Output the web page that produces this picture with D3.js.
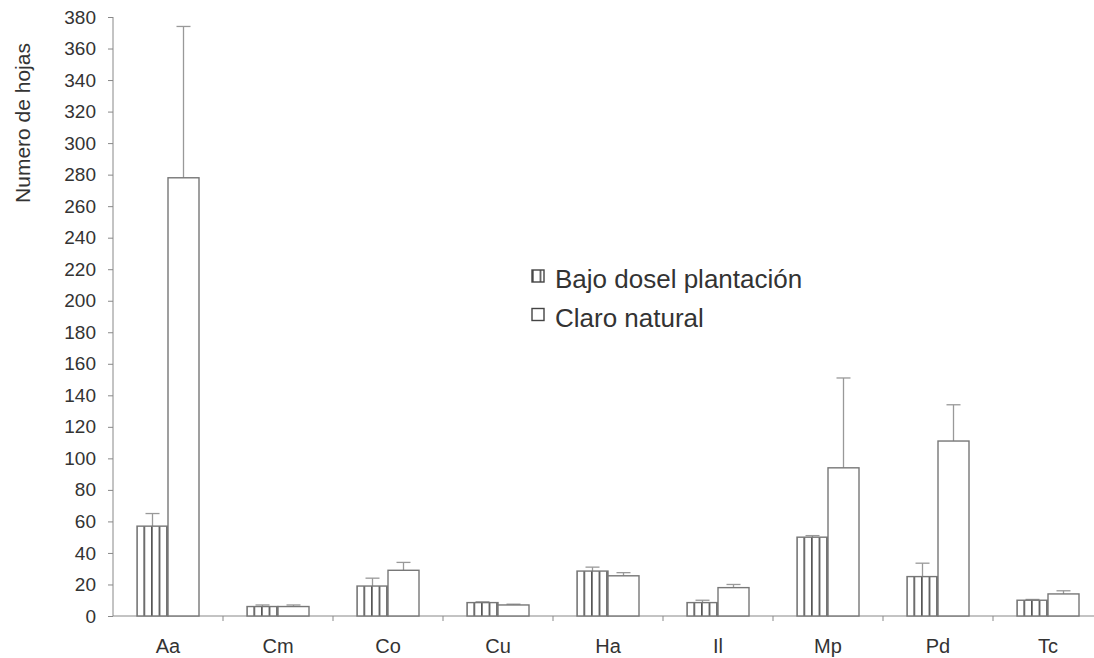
<!DOCTYPE html>
<html>
<head>
<meta charset="utf-8">
<script src="https://cdn.jsdelivr.net/npm/d3@7"></script>
<style>
  body { margin: 0; background: #fff; }
  text { font-family: "Liberation Sans", Arial, sans-serif; fill: #333; }
</style>
</head>
<body>
<div id="chart"></div>
<script>
// data
var species = ["Aa", "Cm", "Co", "Cu", "Ha", "Il", "Mp", "Pd", "Tc"];
var bajo = [57, 6, 19, 8.5, 28.5, 8.5, 50, 25, 10];
var bajoErr = [8, 1, 5, 0.5, 2.5, 1.5, 1, 8.5, 0.5];
var claro = [278, 6, 29, 7, 25.5, 18, 94, 111, 14];
var claroErr = [96, 1, 5, 0.5, 2, 2, 57, 23, 2];
var seriesNames = ["Bajo dosel plantación", "Claro natural"];
var yTicks = d3.range(0, 381, 20);

var width = 1094, height = 658;
var margin = {top: 17, left: 113, bottom: 42};
var axisGray = "#888";

var svg = d3.select("#chart").append("svg")
    .attr("width", width)
    .attr("height", height);

var defs = svg.append("defs");
var pat = defs.append("pattern")
    .attr("id", "vlines")
    .attr("patternUnits", "userSpaceOnUse")
    .attr("width", 7.6)
    .attr("height", 10);
pat.append("rect").attr("width", 7.6).attr("height", 10).attr("fill", "#fff");
pat.append("line")
    .attr("x1", 0.8).attr("x2", 0.8).attr("y1", 0).attr("y2", 10)
    .attr("stroke", "#555").attr("stroke-width", 1.8);

var y = d3.scaleLinear().domain([0, 380]).range([616, margin.top]);
var x0 = d3.scaleBand().domain(species).range([margin.left, margin.left + 9 * 110]);
var x1 = d3.scaleBand().domain([0, 1]).range([24, 86]);

// y axis
var yAxis = svg.append("g")
    .attr("transform", "translate(" + margin.left + ",0)")
    .call(d3.axisLeft(y).tickValues(yTicks).tickSize(5).tickPadding(12));
yAxis.select(".domain").attr("stroke", axisGray).attr("d", "M0," + y(380) + "V" + y(0));
yAxis.selectAll(".tick line").attr("stroke", axisGray);
yAxis.selectAll(".tick text").attr("font-size", 19).attr("fill", "#333")
    .attr("font-family", "Liberation Sans, Arial, sans-serif");

svg.append("text")
    .attr("transform", "translate(30,123) rotate(-90)")
    .attr("text-anchor", "middle")
    .attr("font-size", 21)
    .text("Numero de hojas");

// x axis
svg.append("line")
    .attr("x1", margin.left).attr("x2", width)
    .attr("y1", y(0)).attr("y2", y(0))
    .attr("stroke", axisGray);
svg.selectAll(".xtick")
    .data(species.slice(1))
    .enter().append("line")
    .attr("x1", function(d) { return x0(d); })
    .attr("x2", function(d) { return x0(d); })
    .attr("y1", y(0)).attr("y2", y(0) + 5)
    .attr("stroke", axisGray);
svg.selectAll(".xlab")
    .data(species)
    .enter().append("text")
    .attr("x", function(d) { return x0(d) + x0.bandwidth() / 2; })
    .attr("y", 653)
    .attr("text-anchor", "middle")
    .attr("font-size", 20)
    .text(function(d) { return d; });

// bars
var groups = svg.selectAll(".grp")
    .data(species)
    .enter().append("g")
    .attr("transform", function(d) { return "translate(" + x0(d) + ",0)"; });

function drawSeries(vals, errs, idx, fill) {
    groups.append("line")
        .attr("x1", x1(idx) + x1.bandwidth() / 2)
        .attr("x2", x1(idx) + x1.bandwidth() / 2)
        .attr("y1", function(d, i) { return y(vals[i]); })
        .attr("y2", function(d, i) { return y(vals[i] + errs[i]); })
        .attr("stroke", "#999").attr("stroke-width", 1.3);
    groups.append("line")
        .attr("x1", x1(idx) + x1.bandwidth() / 2 - 7)
        .attr("x2", x1(idx) + x1.bandwidth() / 2 + 7)
        .attr("y1", function(d, i) { return y(vals[i] + errs[i]); })
        .attr("y2", function(d, i) { return y(vals[i] + errs[i]); })
        .attr("stroke", "#999").attr("stroke-width", 1.3);
    groups.append("rect")
        .attr("x", x1(idx))
        .attr("width", x1.bandwidth())
        .attr("y", function(d, i) { return y(vals[i]); })
        .attr("height", function(d, i) { return y(0) - y(vals[i]); })
        .attr("fill", fill)
        .attr("stroke", "#777").attr("stroke-width", 1.4);
}
drawSeries(bajo, bajoErr, 0, "url(#vlines)");
drawSeries(claro, claroErr, 1, "#fff");

// legend
var legend = svg.append("g").attr("transform", "translate(532,270)");
seriesNames.forEach(function(name, i) {
    legend.append("rect")
        .attr("x", 0).attr("y", i * 38.5)
        .attr("width", 12).attr("height", 12)
        .attr("fill", i === 0 ? "url(#vlines)" : "#fff")
        .attr("stroke", "#444").attr("stroke-width", 1.4);
    legend.append("text")
        .attr("x", 23).attr("y", i * 38.5 + 18)
        .attr("font-size", 26)
        .text(name);
});
</script>
</body>
</html>
